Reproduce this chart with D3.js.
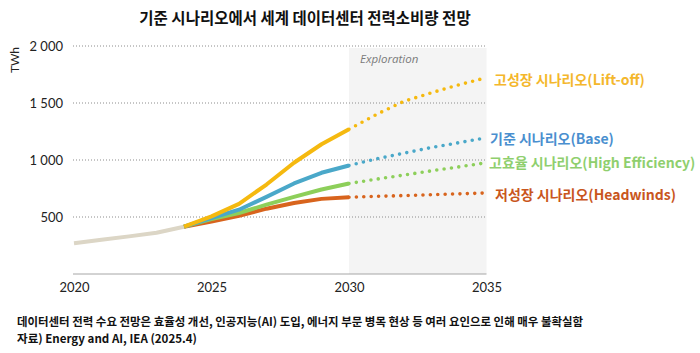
<!DOCTYPE html>
<html>
<head>
<meta charset="utf-8">
<script src="https://cdn.jsdelivr.net/npm/d3@7"></script>
<style>
  body { margin: 0; background: #fff; }
  text { font-family: "Noto Sans CJK KR", "Noto Sans", sans-serif; }
</style>
</head>
<body>
<script>
// data (TWh)
var histYears = [2020, 2021, 2022, 2023, 2024];
var histValues = [270, 300, 330, 362, 415];

var projYears = [2024, 2025, 2026, 2027, 2028, 2029, 2030];
var liftoff = [415, 505, 615, 785, 976, 1138, 1270];
var base = [415, 491, 564, 676, 794, 888, 952];
var highEff = [415, 482, 535, 608, 676, 741, 794];
var headwinds = [415, 461, 511, 573, 623, 659, 673];

var explYears = [2030, 2031, 2032, 2033, 2034, 2035];
var liftoffExpl = [1270, 1400, 1515, 1590, 1660, 1722];
var baseExpl = [952, 1010, 1060, 1110, 1152, 1195];
var highEffExpl = [794, 832, 868, 905, 940, 976];
var headwindsExpl = [673, 681, 688, 695, 703, 711];

var seriesNames = ["고성장 시나리오(Lift-off)", "기준 시나리오(Base)", "고효율 시나리오(High Efficiency)", "저성장 시나리오(Headwinds)"];
var lineColors = ["#f5b90f", "#4aa8c9", "#8dcf5a", "#d8641d"];
var labelColors = ["#f4b72c", "#4a8fcf", "#8fcf6e", "#c9561d"];
var yTicks = [500, 1000, 1500, 2000];
var xTicks = [2020, 2025, 2030, 2035];

var W = 700, H = 353;
var svg = d3.select("body").append("svg")
    .attr("width", W)
    .attr("height", H);

var x = d3.scaleLinear().domain([2020, 2035]).range([74, 486.5]);
var y = d3.scaleLinear().domain([0, 2000]).range([274, 46]);

// title
svg.append("text")
    .attr("x", 305).attr("y", 24)
    .attr("text-anchor", "middle")
    .attr("font-size", 15.5).attr("font-weight", "bold")
    .attr("fill", "#111")
    .text("기준 시나리오에서 세계 데이터센터 전력소비량 전망");

// exploration shading
svg.append("rect")
    .attr("x", x(2030)).attr("y", y(2000) + 2)
    .attr("width", x(2035) - x(2030))
    .attr("height", y(0) - y(2000) - 2)
    .attr("fill", "#f4f4f4");

svg.append("text")
    .attr("x", x(2030) + 11).attr("y", 63)
    .style("font-family", "'Open Sans', sans-serif")
    .attr("font-size", 11.5).attr("font-style", "italic")
    .attr("fill", "#7a7a7a")
    .text("Exploration");

// gridlines
svg.append("g").selectAll("line")
    .data(yTicks)
    .enter().append("line")
        .attr("x1", 73).attr("x2", x(2035))
        .attr("y1", function(d) { return y(d); })
        .attr("y2", function(d) { return y(d); })
        .attr("stroke", "#8c8c8c")
        .attr("stroke-width", 1)
        .attr("stroke-dasharray", "1 2");

// axes
var yAxis = d3.axisLeft(y).tickValues(yTicks).tickSize(0).tickPadding(10)
    .tickFormat(function(d) { return d >= 1000 ? Math.floor(d / 1000) + " " + d3.format("03d")(d % 1000) : d; });
var gy = svg.append("g").attr("transform", "translate(73,0)").call(yAxis);
gy.select(".domain").remove();
gy.selectAll("text")
    .style("font-family", "Lato, 'Open Sans', sans-serif")
    .attr("font-size", 13).attr("fill", "#222");

var xAxis = d3.axisBottom(x).tickValues(xTicks).tickSize(0).tickPadding(9).tickFormat(d3.format("d"));
var gx = svg.append("g").attr("transform", "translate(0," + y(0) + ")").call(xAxis);
gx.select(".domain").attr("stroke", "#a6a6a6").attr("d", "M73,0H" + x(2035));
gx.selectAll("text")
    .style("font-family", "Lato, 'Open Sans', sans-serif")
    .attr("font-size", 13).attr("fill", "#222");

svg.append("text")
    .attr("transform", "translate(19,60) rotate(-90)")
    .attr("text-anchor", "middle")
    .style("font-family", "Lato, 'Open Sans', sans-serif")
    .attr("font-size", 12).attr("fill", "#222")
    .text("TWh");

// lines
var line = d3.line()
    .x(function(d) { return x(d[0]); })
    .y(function(d) { return y(d[1]); })
    .curve(d3.curveLinear);

function pairs(xs, vs) { return xs.map(function(v, i) { return [v, vs[i]]; }); }

var projSets = [liftoff, base, highEff, headwinds];
var explSets = [liftoffExpl, baseExpl, highEffExpl, headwindsExpl];

svg.append("path")
    .attr("d", line(pairs(histYears, histValues)))
    .attr("fill", "none").attr("stroke", "#dcd6c6")
    .attr("stroke-width", 4).attr("stroke-linejoin", "round");

// draw solid projections bottom-up so yellow ends on top like the reference
for (var p = 3; p >= 0; p--) {
    svg.append("path")
        .attr("d", line(pairs(projYears, projSets[p])))
        .attr("fill", "none").attr("stroke", lineColors[p])
        .attr("stroke-width", 4).attr("stroke-linejoin", "round");

    svg.append("path")
        .attr("d", line(pairs(explYears, explSets[p])))
        .attr("fill", "none").attr("stroke", lineColors[p])
        .attr("stroke-width", 3.6)
        .attr("stroke-linecap", "round")
        .attr("stroke-dasharray", "0 7.4")
        .attr("stroke-dashoffset", -7.4);
}

// series labels
var labelY = [80, 139, 163, 195];
var labelX = [494, 490, 489, 495];
svg.append("g").selectAll("text")
    .data(seriesNames)
    .enter().append("text")
        .attr("x", function(d, i) { return labelX[i]; })
        .attr("y", function(d, i) { return labelY[i]; })
        .attr("dy", "0.35em")
        .attr("font-size", 14).attr("font-weight", "bold")
        .attr("fill", function(d, i) { return labelColors[i]; })
        .text(function(d) { return d; });

// footnote
svg.append("text")
    .attr("x", 17).attr("y", 326)
    .attr("font-size", 11.5).attr("font-weight", "bold").attr("fill", "#111")
    .attr("textLength", 566).attr("lengthAdjust", "spacingAndGlyphs")
    .text("데이터센터 전력 수요 전망은 효율성 개선, 인공지능(AI) 도입, 에너지 부문 병목 현상 등 여러 요인으로 인해 매우 불확실함");
svg.append("text")
    .attr("x", 17).attr("y", 343)
    .attr("font-size", 11.5).attr("font-weight", "bold").attr("fill", "#111")
    .attr("textLength", 180).attr("lengthAdjust", "spacingAndGlyphs")
    .text("자료) Energy and AI, IEA (2025.4)");
</script>
</body>
</html>
